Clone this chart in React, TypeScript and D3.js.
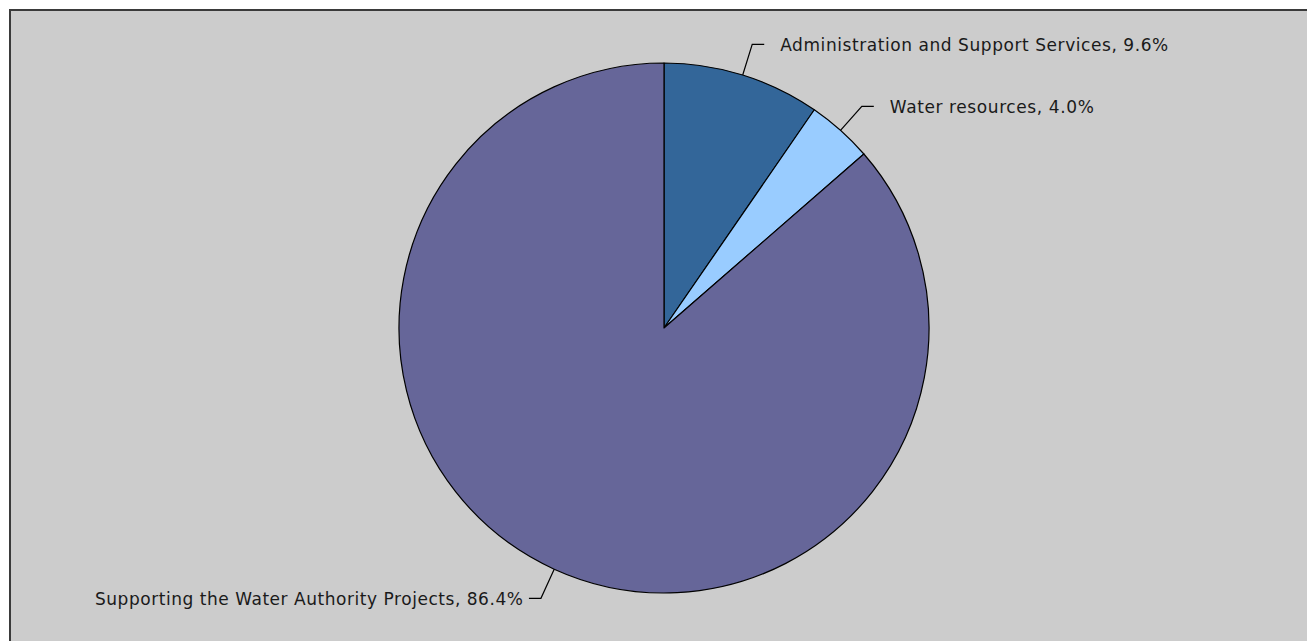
import React from "react";
import * as d3 from "d3";

const categories = [
  "Administration and Support Services",
  "Water resources",
  "Supporting the Water Authority Projects",
];
const shares = [9.6, 4.0, 86.4];
const colors = ["#336699", "#99ccff", "#666699"];
const labelWidths = [388, 204, 428];

const W = 1307;
const H = 641;
const cx = 664;
const cy = 328;
const R = 265;
const elbowR = 297;
const hook = 12;
const gap = 16;

export default function App() {
  const pie = d3
    .pie<number>()
    .sort(null)
    .value((d) => d);
  const arcs = pie(shares);
  const arc = d3.arc<d3.PieArcDatum<number>>().innerRadius(0).outerRadius(R);

  return (
    <svg
      width={W}
      height={H}
      style={{ position: "absolute", left: 0, top: 0, display: "block" }}
    >
      <rect x={0} y={0} width={W} height={H} fill="#ffffff" />
      <rect x={10} y={10} width={W + 20} height={H + 20} fill="#cccccc" stroke="#3a3a3a" strokeWidth={2} />
      <g transform={`translate(${cx},${cy})`}>
        {arcs.map((a, i) => (
          <path key={i} d={arc(a) || ""} fill={colors[i]} stroke="#000" strokeWidth={1.2} strokeLinejoin="round" />
        ))}
      </g>
      {arcs.map((a, i) => {
        const mid = (a.startAngle + a.endAngle) / 2;
        const sx = cx + R * Math.sin(mid);
        const sy = cy - R * Math.cos(mid);
        const ex = cx + elbowR * Math.sin(mid);
        const ey = cy - elbowR * Math.cos(mid);
        const right = Math.sin(mid) >= 0;
        const hx = ex + (right ? hook : -hook);
        const tx = right ? hx + gap : hx - 6 - labelWidths[i];
        const text = `${categories[i]}, ${shares[i].toFixed(1)}%`;
        return (
          <g key={i}>
            <polyline
              points={`${sx},${sy} ${ex},${ey} ${hx},${ey}`}
              fill="none"
              stroke="#000"
              strokeWidth={1.2}
            />
            <text
              x={tx}
              y={ey + 7}
              textAnchor="start"
              fontFamily="DejaVu Sans, sans-serif"
              fontSize={17}
              fill="#1a1a1a"
              textLength={labelWidths[i]}
              lengthAdjust="spacing"
            >
              {text}
            </text>
          </g>
        );
      })}
    </svg>
  );
}
